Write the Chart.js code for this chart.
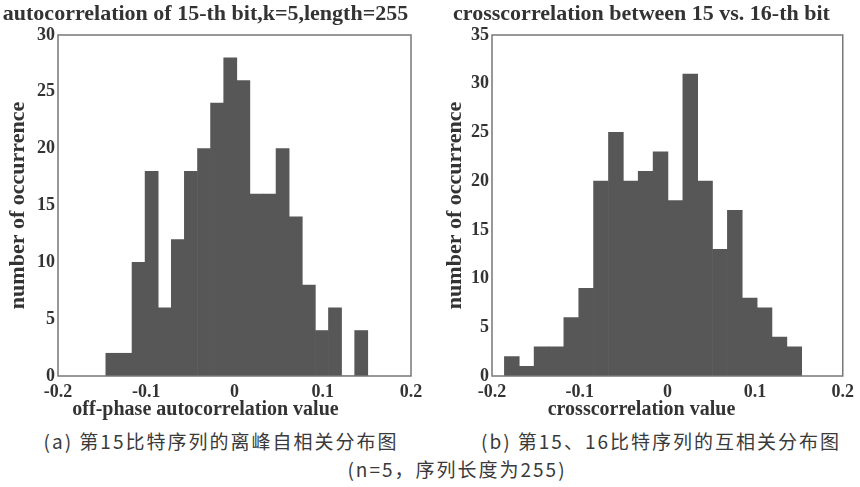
<!DOCTYPE html>
<html>
<head>
<meta charset="utf-8">
<script src="https://cdn.jsdelivr.net/npm/chart.js@4.4.1/dist/chart.umd.min.js"></script>
<style>
  body { margin: 0; background: #fff; width: 860px; height: 487px; position: relative; overflow: hidden; }
  .box { position: absolute; top: 0; }
  .cap { position: absolute; font-family: "Noto Sans CJK SC", sans-serif; font-size: 19px; color: #3a3a3a;
         transform: translate(-50%, -50%); white-space: nowrap; letter-spacing: 2px; }
</style>
</head>
<body>
<div class="box" style="left:0px"><canvas id="autoChart" width="430" height="425"></canvas></div>
<div class="box" style="left:440px"><canvas id="crossChart" width="420" height="425"></canvas></div>
<div class="cap" style="left:221px; top:440px">(a) 第15比特序列的离峰自相关分布图</div>
<div class="cap" style="left:661px; top:440px">(b) 第15、16比特序列的互相关分布图</div>
<div class="cap" style="left:457px; top:468px">(n=5，序列长度为255)</div>
<script>
// bin centers (20 bins each)
const autoBins = [-0.1384, -0.1236, -0.1087, -0.0939, -0.0790, -0.0642, -0.0494, -0.0345, -0.0197, -0.0048,
                  0.0100, 0.0249, 0.0397, 0.0545, 0.0694, 0.0842, 0.0991, 0.1139, 0.1287, 0.1436];
const autoCounts = [2, 2, 10, 18, 6, 12, 18, 20, 24, 28, 26, 16, 16, 20, 14, 8, 4, 6, 0, 4];

const crossBins = [-0.1774, -0.1604, -0.1435, -0.1265, -0.1096, -0.0926, -0.0757, -0.0587, -0.0418, -0.0248,
                   -0.0078, 0.0091, 0.0261, 0.0430, 0.0600, 0.0769, 0.0939, 0.1108, 0.1278, 0.1447];
const crossCounts = [2, 1, 3, 3, 6, 9, 20, 25, 20, 21, 23, 18, 31, 20, 13, 17, 8, 7, 4, 3];

const xTicks = [-0.2, -0.1, 0, 0.1, 0.2];

const serif = "'Liberation Serif', 'DejaVu Serif', serif";
const textColor = "#333";

// draw the frame round the plot area
const frame = {
  id: "frame",
  afterDatasetsDraw(chart) {
    const a = chart.chartArea;
    const ctx = chart.ctx;
    ctx.save();
    ctx.strokeStyle = "#777";
    ctx.lineWidth = 1.5;
    ctx.strokeRect(a.left, a.top, a.right - a.left, a.bottom - a.top);
    ctx.restore();
  },
};

function makeHist(id, bins, counts, opts) {
  return new Chart(document.getElementById(id), {
    type: "bar",
    data: {
      datasets: [{
        data: bins.map((b, i) => ({ x: b, y: counts[i] })),
        backgroundColor: "#575757",
        borderWidth: 0,
        barPercentage: 1.0,
        categoryPercentage: 1.0,
      }],
    },
    options: {
      responsive: false,
      animation: false,
      layout: { padding: { left: 0, right: opts.padRight, top: 0, bottom: 0 } },
      plugins: {
        legend: { display: false },
        tooltip: { enabled: false },
        title: {
          display: true,
          text: opts.title,
          color: textColor,
          font: { family: serif, size: 22, weight: "bold" },
          padding: { top: 1, bottom: 7.6 },
        },
        subtitle: {
          display: true,
          position: "bottom",
          text: opts.xTitle,
          color: textColor,
          font: { family: serif, size: 20, weight: "bold" },
          padding: { top: 0, bottom: 3 },
        },
      },
      scales: {
        x: {
          type: "linear",
          min: -0.2,
          max: 0.2,
          offset: false,
          grid: { display: false, drawTicks: false },
          border: { display: false },
          afterBuildTicks: (s) => { s.ticks = xTicks.map((v) => ({ value: v })); },
          afterFit: (s) => { s.height = 22; },
          ticks: {
            padding: 6,
            color: textColor,
            font: { family: serif, size: 18, weight: "bold" },
            callback: (v) => String(Number(v.toFixed(1))),
          },
        },
        y: {
          min: 0,
          max: opts.yMax,
          grid: { display: false, drawTicks: false },
          border: { display: false },
          afterFit: (s) => { s.width = opts.yWidth; },
          title: {
            display: true,
            text: "number of occurrence",
            color: textColor,
            font: { family: serif, size: 22, weight: "bold" },
            padding: { top: opts.yTitlePad, bottom: 0 },
          },
          ticks: {
            stepSize: 5,
            padding: 3,
            color: textColor,
            font: { family: serif, size: 18, weight: "bold" },
          },
        },
      },
    },
    plugins: [frame],
  });
}

makeHist("autoChart", autoBins, autoCounts, {
  title: "autocorrelation of 15-th bit,k=5,length=255",
  xTitle: "off-phase autocorrelation value",
  yMax: 30, yWidth: 58, yTitlePad: 4.8, padRight: 19,
});

makeHist("crossChart", crossBins, crossCounts, {
  title: "crosscorrelation between 15 vs. 16-th bit",
  xTitle: "crosscorrelation value",
  yMax: 35, yWidth: 52, yTitlePad: 1.8, padRight: 17,
});
</script>
</body>
</html>
